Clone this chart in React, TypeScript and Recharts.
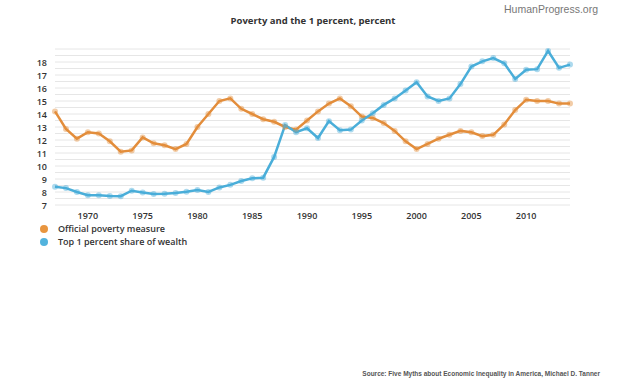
import React from "react";
import { LineChart, Line, XAxis, YAxis, CartesianGrid } from "recharts";

const years = [
  1967, 1968, 1969, 1970, 1971, 1972, 1973, 1974, 1975, 1976, 1977, 1978, 1979, 1980,
  1981, 1982, 1983, 1984, 1985, 1986, 1987, 1988, 1989, 1990, 1991, 1992, 1993, 1994,
  1995, 1996, 1997, 1998, 1999, 2000, 2001, 2002, 2003, 2004, 2005, 2006, 2007, 2008,
  2009, 2010, 2011, 2012, 2013, 2014,
];

const poverty = [
  14.2, 12.85, 12.1, 12.6, 12.5, 11.9, 11.1, 11.2, 12.2, 11.75, 11.6, 11.3, 11.7, 13.0,
  14.0, 15.0, 15.2, 14.4, 14.0, 13.6, 13.4, 13.0, 12.8, 13.5, 14.2, 14.8, 15.2, 14.6,
  13.8, 13.7, 13.3, 12.7, 11.9, 11.3, 11.7, 12.1, 12.4, 12.7, 12.6, 12.3, 12.4, 13.2,
  14.3, 15.1, 15.0, 15.0, 14.8, 14.8,
];

const top1 = [
  8.4, 8.3, 8.0, 7.75, 7.75, 7.7, 7.68, 8.1, 7.97, 7.85, 7.87, 7.93, 8.02, 8.15,
  8.0, 8.35, 8.55, 8.85, 9.05, 9.1, 10.7, 13.15, 12.6, 12.9, 12.15, 13.45, 12.75, 12.8,
  13.5, 14.05, 14.7, 15.2, 15.8, 16.45, 15.35, 15.0, 15.2, 16.3, 17.65, 18.05, 18.3, 17.9,
  16.7, 17.4, 17.45, 18.85, 17.55, 17.8,
];

const xTicks = [1970, 1975, 1980, 1985, 1990, 1995, 2000, 2005, 2010];
const yTicks = [7, 7.5, 8, 8.5, 9, 9.5, 10, 10.5, 11, 11.5, 12, 12.5, 13, 13.5, 14, 14.5, 15, 15.5, 16, 16.5, 17, 17.5, 18, 18.5];

const seriesNames = ["Official poverty measure", "Top 1 percent share of wealth"];
const seriesColors = ["#E38D3B", "#4AAED9"];
const legendColors = ["#E8953F", "#52B3DD"];

const title = "Poverty and the 1 percent, percent";
const brand = "HumanProgress.org";
const source = "Source: Five Myths about Economic Inequality in America, Michael D. Tanner";

const data = years.map((y, i) => ({ year: y, poverty: poverty[i], top1: top1[i] }));

const FONT = "'Open Sans', 'Noto Sans', sans-serif";

const YTick = (props: any) => {
  const { x, y, payload } = props;
  if (!Number.isInteger(payload.value)) return null;
  return (
    <text x={x} y={y} dy={3.5} textAnchor="end" fontSize={9} fontWeight={600} fill="#333" fontFamily={FONT}>
      {payload.value}
    </text>
  );
};

export default function App() {
  return (
    <div style={{ position: "absolute", left: 0, top: 0, width: 620, height: 385, background: "#fff", fontFamily: FONT }}>
      <div style={{ position: "absolute", left: 0, width: 626, top: 14, textAlign: "center", fontSize: 9.5, fontWeight: 700, color: "#333" }}>
        {title}
      </div>
      <div style={{ position: "absolute", right: 22, top: 3, fontSize: 10.5, color: "#777", fontFamily: "'Liberation Sans', Arial, sans-serif" }}>
        {brand}
      </div>
      <LineChart width={620} height={385} data={data} margin={{ top: 49, right: 50, bottom: 160, left: 20 }}>
        <CartesianGrid vertical={false} stroke="#e6e6e6" strokeWidth={1} />
        <XAxis
          dataKey="year"
          type="number"
          domain={[1967, 2014]}
          ticks={xTicks}
          axisLine={false}
          tickLine={false}
          height={20}
          tick={{ fontSize: 9, fontWeight: 600, fill: "#333", fontFamily: FONT }}
          tickMargin={2}
        />
        <YAxis
          type="number"
          domain={[7, 19]}
          ticks={yTicks}
          interval={0}
          axisLine={false}
          tickLine={false}
          width={35}
          tick={<YTick />}
        />
        <Line
          type="linear"
          dataKey="poverty"
          stroke={seriesColors[0]}
          strokeWidth={2.5}
          dot={{ r: 3, fill: seriesColors[0], fillOpacity: 0.45, stroke: "none" }}
          isAnimationActive={false}
        />
        <Line
          type="linear"
          dataKey="top1"
          stroke={seriesColors[1]}
          strokeWidth={2.5}
          dot={{ r: 3, fill: seriesColors[1], fillOpacity: 0.45, stroke: "none" }}
          isAnimationActive={false}
        />
      </LineChart>
      <div style={{ position: "absolute", left: 40, top: 222 }}>
        {seriesNames.map((n, i) => (
          <div key={n} style={{ display: "flex", alignItems: "center", height: 13 }}>
            <span style={{ display: "inline-block", width: 8, height: 8, borderRadius: 4, background: legendColors[i], marginRight: 10 }} />
            <span style={{ fontSize: 9, fontWeight: 600, color: "#333" }}>{n}</span>
          </div>
        ))}
      </div>
      <div style={{ position: "absolute", right: 20, top: 370, fontSize: 6.5, fontWeight: 700, color: "#555", fontFamily: "'Liberation Sans', Arial, sans-serif" }}>
        {source}
      </div>
    </div>
  );
}
